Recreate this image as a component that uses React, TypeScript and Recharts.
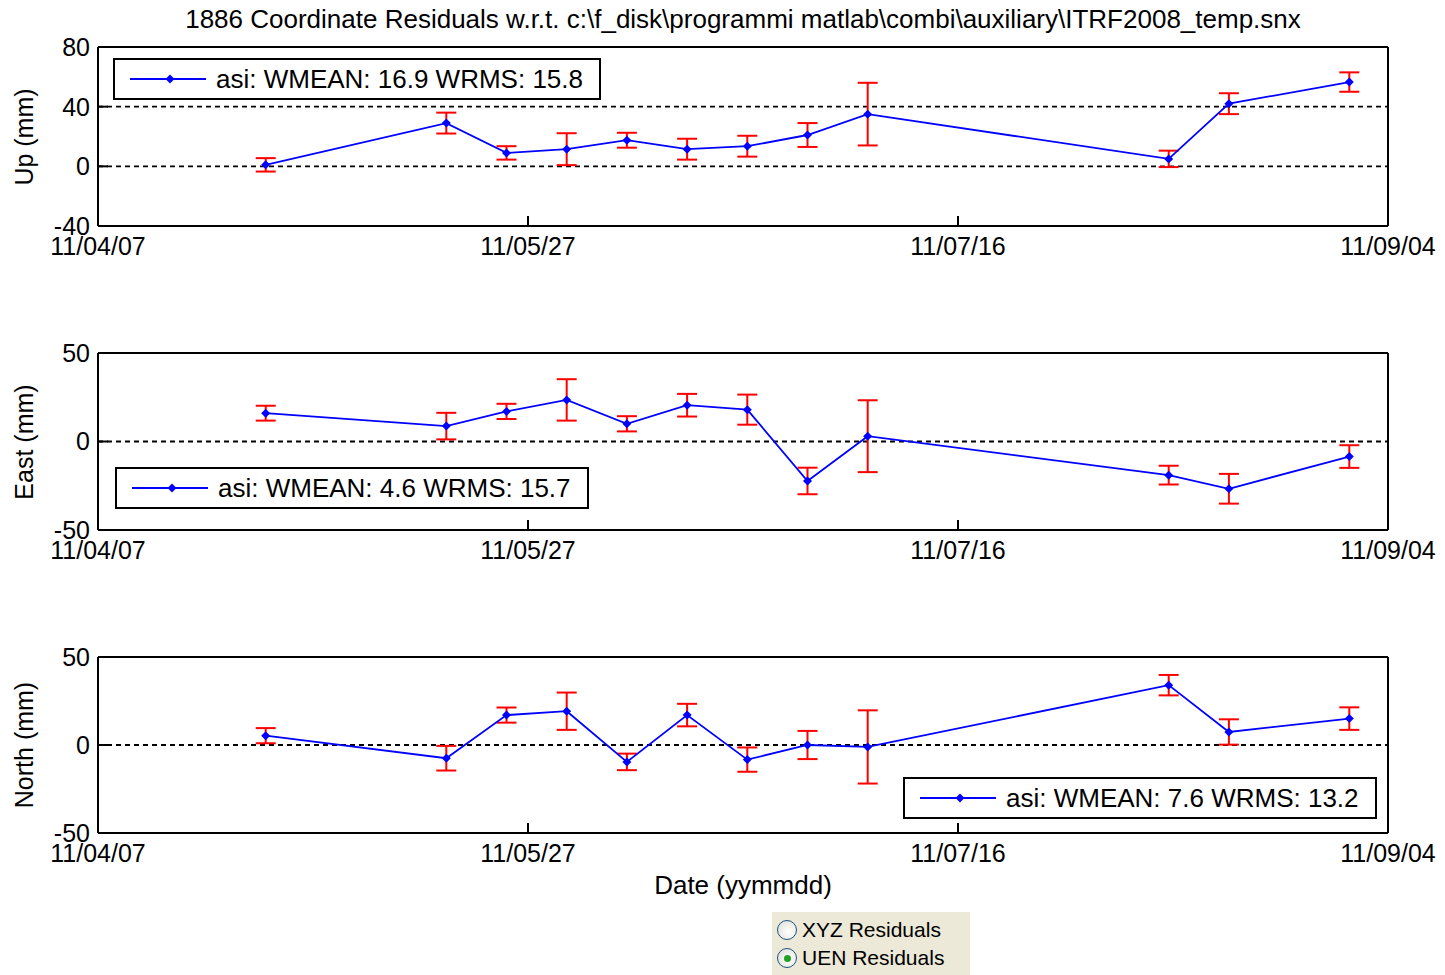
import { LineChart, Line, XAxis, YAxis, CartesianGrid, ErrorBar, Legend } from 'recharts';

const FONT = '"Liberation Sans", Arial, Helvetica, sans-serif';

// days since 11/04/07
const days = [19.5, 40.5, 47.5, 54.5, 61.5, 68.5, 75.5, 82.5, 89.5, 124.5, 131.5, 145.5];

const upValues = [1, 29, 9, 11.5, 17.5, 11.5, 13.5, 21, 35, 5, 42, 56.5];
const upErrors = [4.5, 7, 4.5, 10.7, 5, 7, 7, 8, 21, 5.5, 7, 6.5];
const eastValues = [16, 8.7, 17, 23.5, 10, 20.5, 18, -22.3, 3, -19, -26.7, -8.5];
const eastErrors = [4.2, 7.5, 4.3, 11.7, 4.3, 6.4, 8.5, 7.5, 20.3, 5.3, 8.4, 6.4];
const northValues = [5.3, -7.5, 17, 19.2, -9.6, 17, -8.3, 0, -1.1, 34, 7.4, 15];
const northErrors = [4.3, 7, 4.3, 10.6, 4.7, 6.4, 6.9, 8, 20.8, 5.8, 7.2, 6.4];

const xTicks = [0, 50, 100, 150];
const xTickLabels = ['11/04/07', '11/05/27', '11/07/16', '11/09/04'];
const upTicks = [-40, 0, 40, 80];
const enTicks = [-50, 0, 50];

const title = '1886 Coordinate Residuals w.r.t. c:\\f_disk\\programmi matlab\\combi\\auxiliary\\ITRF2008_temp.snx';

const BLUE = '#0000ff';
const RED = '#ff0000';

const diamond = (cx: number, cy: number, r = 4.5) =>
  `M${cx},${cy - r} L${cx + r},${cy} L${cx},${cy + r} L${cx - r},${cy} Z`;

function LegendBox({ label, width }: { label: string; width: number }) {
  return (
    <div
      style={{
        width,
        height: 42,
        boxSizing: 'border-box',
        border: '2px solid #000',
        background: '#fff',
        display: 'flex',
        alignItems: 'center',
        paddingLeft: 15,
        fontFamily: FONT,
        fontSize: 26,
        color: '#000',
        whiteSpace: 'nowrap',
      }}
    >
      <svg width={76} height={12} style={{ marginRight: 10 }}>
        <line x1={0} y1={6} x2={76} y2={6} stroke={BLUE} strokeWidth={2} />
        <path d={diamond(40, 6)} fill={BLUE} />
      </svg>
      <span>{label}</span>
    </div>
  );
}

type PanelProps = {
  plotTop: number;
  plotHeight: number;
  values: number[];
  errors: number[];
  yTicks: number[];
  yLabel: string;
  legendLabel: string;
  legendLeft: number;
  legendTop: number;
  legendWidth: number;
};

function Panel(p: PanelProps) {
  const data = days.map((d, i) => ({ day: d, value: p.values[i], err: p.errors[i] }));
  const height = p.plotHeight + 100;
  const yDomain = [p.yTicks[0], p.yTicks[p.yTicks.length - 1]];
  const axisStyle = { stroke: '#000', strokeWidth: 2 };
  return (
    <>
      <div style={{ position: 'absolute', left: 0, top: p.plotTop - 40 }}>
        <LineChart width={1445} height={height} data={data} margin={{ top: 39, right: 56, bottom: 20, left: 0 }}>
          <CartesianGrid vertical={false} stroke="#000" strokeDasharray="5 4" strokeWidth={1.8} />
          <XAxis
            dataKey="day"
            type="number"
            domain={[0, 150]}
            ticks={xTicks}
            interval={0}
            tickFormatter={(v: number) => xTickLabels[xTicks.indexOf(v)]}
            height={40}
            tickSize={-10}
            tickMargin={21}
            {...axisStyle}
            tick={{ fill: '#000', fontSize: 25, fontFamily: FONT }}
          />
          <XAxis
            xAxisId="top"
            orientation="top"
            type="number"
            domain={[0, 150]}
            ticks={xTicks}
            interval={0}
            height={1}
            tickSize={-10}
            tick={false}
            {...axisStyle}
          />
          <YAxis
            type="number"
            domain={yDomain}
            ticks={p.yTicks}
            interval={0}
            width={98}
            tickSize={-10}
            tickMargin={18}
            {...axisStyle}
            tick={{ fill: '#000', fontSize: 25, fontFamily: FONT }}
          />
          <YAxis
            yAxisId="right"
            orientation="right"
            type="number"
            domain={yDomain}
            ticks={p.yTicks}
            interval={0}
            width={1}
            tickSize={-10}
            tick={false}
            {...axisStyle}
          />
          <Line
            dataKey="value"
            stroke={BLUE}
            strokeWidth={1.8}
            isAnimationActive={false}
            dot={(d: any) => <path key={`dot-${d.index}`} d={diamond(d.cx, d.cy)} fill={BLUE} />}
            activeDot={false}
          >
            <ErrorBar dataKey="err" width={10} stroke={RED} strokeWidth={2} isAnimationActive={false} />
          </Line>
          <Legend
            layout="vertical"
            align="center"
            verticalAlign="middle"
            wrapperStyle={{ left: p.legendLeft, top: p.legendTop - (p.plotTop - 40), width: p.legendWidth }}
            content={() => <LegendBox label={p.legendLabel} width={p.legendWidth} />}
          />
        </LineChart>
      </div>
      <div
        style={{
          position: 'absolute',
          left: 24,
          top: p.plotTop + p.plotHeight / 2,
          transform: 'translate(-50%, -50%) rotate(-90deg)',
          fontFamily: FONT,
          fontSize: 25,
          whiteSpace: 'nowrap',
          color: '#000',
        }}
      >
        {p.yLabel}
      </div>
    </>
  );
}

function Radio({ checked, label }: { checked: boolean; label: string }) {
  return (
    <div style={{ display: 'flex', alignItems: 'center', height: 28 }}>
      <div
        style={{
          width: 20,
          height: 20,
          borderRadius: '50%',
          border: '1.5px solid #1c5180',
          background: 'radial-gradient(circle at 60% 60%, #ffffff, #dcdcd4)',
          boxSizing: 'border-box',
          display: 'flex',
          alignItems: 'center',
          justifyContent: 'center',
          marginRight: 5,
        }}
      >
        {checked && <div style={{ width: 7, height: 7, borderRadius: '50%', background: '#21a121' }} />}
      </div>
      <span>{label}</span>
    </div>
  );
}

export default function App() {
  return (
    <div style={{ position: 'absolute', left: 0, top: 0, width: 1445, height: 975, background: '#fff', overflow: 'hidden' }}>
      <div
        style={{
          position: 'absolute',
          left: 98,
          width: 1290,
          top: 5,
          textAlign: 'center',
          fontFamily: FONT,
          fontSize: 26,
          lineHeight: '28px',
          color: '#000',
          whiteSpace: 'nowrap',
        }}
      >
        {title}
      </div>
      <Panel
        plotTop={47}
        plotHeight={179}
        values={upValues}
        errors={upErrors}
        yTicks={upTicks}
        yLabel="Up (mm)"
        legendLabel="asi: WMEAN: 16.9 WRMS: 15.8"
        legendLeft={113}
        legendTop={58}
        legendWidth={488}
      />
      <Panel
        plotTop={353}
        plotHeight={177}
        values={eastValues}
        errors={eastErrors}
        yTicks={enTicks}
        yLabel="East (mm)"
        legendLabel="asi: WMEAN: 4.6 WRMS: 15.7"
        legendLeft={115}
        legendTop={467}
        legendWidth={474}
      />
      <Panel
        plotTop={657}
        plotHeight={176}
        values={northValues}
        errors={northErrors}
        yTicks={enTicks}
        yLabel="North (mm)"
        legendLabel="asi: WMEAN: 7.6 WRMS: 13.2"
        legendLeft={903}
        legendTop={777}
        legendWidth={474}
      />
      <div
        style={{
          position: 'absolute',
          left: 98,
          width: 1290,
          top: 871,
          textAlign: 'center',
          fontFamily: FONT,
          fontSize: 26,
          lineHeight: '28px',
          color: '#000',
        }}
      >
        Date (yymmdd)
      </div>
      <div
        style={{
          position: 'absolute',
          left: 772,
          top: 912,
          width: 198,
          height: 63,
          background: '#ece9d8',
          fontFamily: FONT,
          fontSize: 21,
          color: '#000',
          padding: '4px 0 0 5px',
          boxSizing: 'border-box',
        }}
      >
        <Radio checked={false} label="XYZ Residuals" />
        <Radio checked={true} label="UEN Residuals" />
      </div>
    </div>
  );
}
